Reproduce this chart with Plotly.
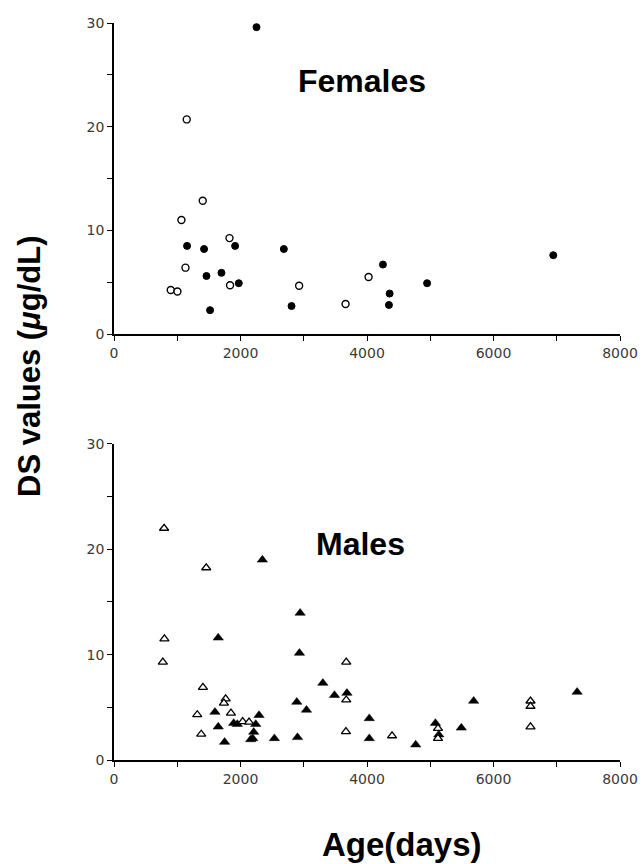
import plotly.graph_objects as go

# Females
female_filled_age = [2253, 1155, 1424, 1915, 1462, 1699, 1973, 1519, 2685, 2807, 4252, 4358, 4347, 4950, 6945]
female_filled_ds = [29.6, 8.5, 8.2, 8.5, 5.6, 5.9, 4.9, 2.3, 8.2, 2.7, 6.7, 3.9, 2.8, 4.9, 7.6]
female_open_age = [1150, 1403, 1066, 1826, 1130, 897, 1003, 1835, 2927, 3661, 4025]
female_open_ds = [20.7, 12.85, 11.0, 9.25, 6.4, 4.25, 4.1, 4.7, 4.65, 2.9, 5.5]

# Males
male_open_age = [792, 1458, 797, 772, 1406, 1765, 1738, 1316, 1849, 1379, 2035, 2135,
                 3672, 3672, 3667, 4396, 5122, 5122, 6585, 6585, 6585]
male_open_ds = [22.0, 18.25, 11.5, 9.3, 6.9, 5.8, 5.4, 4.3, 4.45, 2.45, 3.65, 3.6,
                9.3, 5.7, 2.7, 2.3, 3.0, 2.05, 5.6, 5.1, 3.15]
male_filled_age = [2346, 2943, 2932, 1648, 3302, 3486, 3683, 2890, 3043, 1596, 1648, 1749,
                   1892, 1950, 2241, 2293, 2209, 2193, 2161, 2536, 2901, 4036, 4036, 4770,
                   5082, 5135, 5491, 5686, 7322]
male_filled_ds = [19.0, 13.95, 10.15, 11.6, 7.3, 6.15, 6.35, 5.5, 4.75, 4.55, 3.15, 1.7,
                  3.5, 3.4, 3.4, 4.25, 2.65, 2.05, 1.95, 2.05, 2.15, 3.95, 2.05, 1.45,
                  3.5, 2.4, 3.05, 5.6, 6.45]

x_ticks = [0, 2000, 4000, 6000, 8000]
y_ticks = [0, 10, 20, 30]

fig = go.Figure()

fig.add_trace(go.Scatter(x=female_filled_age, y=female_filled_ds, mode="markers",
                         marker=dict(symbol="circle", size=7, color="black",
                                     line=dict(color="black", width=1)),
                         xaxis="x", yaxis="y", cliponaxis=False, showlegend=False))
fig.add_trace(go.Scatter(x=female_open_age, y=female_open_ds, mode="markers",
                         marker=dict(symbol="circle", size=7, color="white",
                                     line=dict(color="black", width=1.4)),
                         xaxis="x", yaxis="y", cliponaxis=False, showlegend=False))
fig.add_trace(go.Scatter(x=male_filled_age, y=male_filled_ds, mode="markers",
                         marker=dict(symbol="triangle-up", size=9, color="black",
                                     line=dict(color="black", width=0.5)),
                         xaxis="x2", yaxis="y2", cliponaxis=False, showlegend=False))
fig.add_trace(go.Scatter(x=male_open_age, y=male_open_ds, mode="markers",
                         marker=dict(symbol="triangle-up", size=8, color="white",
                                     line=dict(color="black", width=1.3)),
                         xaxis="x2", yaxis="y2", cliponaxis=False, showlegend=False))

tickfont = dict(family="DejaVu Sans", size=14, color="#3a3a3a")
common_x = dict(range=[0, 8000], tickvals=x_ticks, ticks="outside", ticklen=5,
                tickwidth=1.2, showline=True, linecolor="black", linewidth=1.5,
                showgrid=False, zeroline=False, tickfont=tickfont, automargin=False,
                minor=dict(dtick=1000, ticks="outside", ticklen=5, tickwidth=1.2,
                           tickcolor="black", showgrid=False),
                tickcolor="black")
common_y = dict(range=[0, 30], tickvals=y_ticks, ticks="outside", ticklen=5,
                tickwidth=1.2, showline=True, linecolor="black", linewidth=1.5,
                showgrid=False, zeroline=False, tickfont=tickfont, automargin=False,
                minor=dict(dtick=5, ticks="outside", ticklen=5, tickwidth=1.2,
                           tickcolor="black", showgrid=False),
                tickcolor="black")

fig.update_layout(
    width=643, height=864, autosize=False,
    margin=dict(l=114, r=23, t=23, b=104),
    paper_bgcolor="white", plot_bgcolor="white",
    xaxis=dict(domain=[0, 1], anchor="y", **common_x),
    yaxis=dict(domain=[0.578, 1], anchor="x", **common_y),
    xaxis2=dict(domain=[0, 1], anchor="y2", **common_x),
    yaxis2=dict(domain=[0, 0.4288], anchor="x2", **common_y),
    annotations=[
        dict(text="Females", x=0.49, y=0.921, xref="paper", yref="paper",
             showarrow=False, xanchor="center", yanchor="middle",
             font=dict(family="Liberation Sans", size=32, color="black", weight="bold")),
        dict(text="Males", x=0.488, y=0.293, xref="paper", yref="paper",
             showarrow=False, xanchor="center", yanchor="middle",
             font=dict(family="Liberation Sans", size=32, color="black", weight="bold")),
        dict(text="DS values (<i>μ</i>g/dL)", x=-0.166, y=0.5346, xref="paper", yref="paper",
             showarrow=False, xanchor="center", yanchor="middle", textangle=-90,
             font=dict(family="Liberation Sans", size=31, color="black", weight="bold")),
        dict(text="Age(days)", x=0.569, y=-0.114, xref="paper", yref="paper",
             showarrow=False, xanchor="center", yanchor="middle",
             font=dict(family="Liberation Sans", size=33, color="black", weight="bold")),
    ],
)

fig.write_html("out.html", config={"displayModeBar": False},
               post_script="document.body.style.margin='0';document.body.style.overflow='hidden';")
